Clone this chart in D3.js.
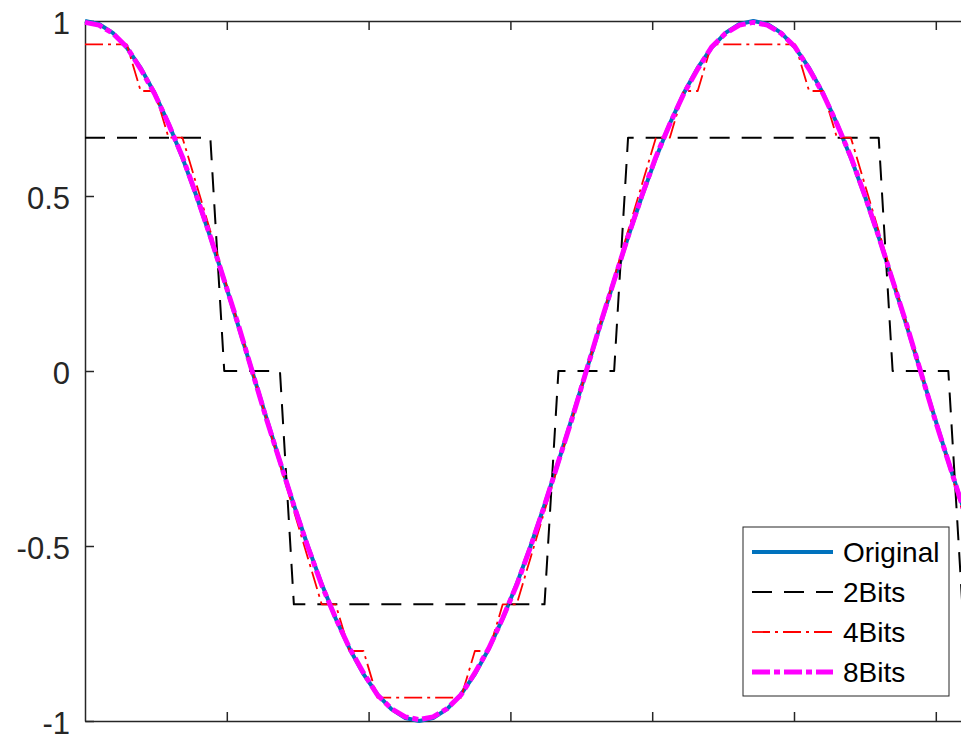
<!DOCTYPE html>
<html>
<head>
<meta charset="UTF-8">
<title>Quantization</title>
<script src="https://cdn.jsdelivr.net/npm/d3@7"></script>
<style>
  body { margin: 0; background: #fff; }
  svg { display: block; }
  text { font-family: "Liberation Sans", Arial, Helvetica, sans-serif; }
</style>
</head>
<body>
<script>
// samples are taken every dt (x axis units), one period = 48 samples
var dt = 0.0982;

var original = [1, 0.9914, 0.9659, 0.9239, 0.866, 0.7934, 0.7071, 0.6088, 0.5, 0.3827, 0.2588, 0.1305,
  0, -0.1305, -0.2588, -0.3827, -0.5, -0.6088, -0.7071, -0.7934, -0.866, -0.9239, -0.9659, -0.9914,
  -1, -0.9914, -0.9659, -0.9239, -0.866, -0.7934, -0.7071, -0.6088, -0.5, -0.3827, -0.2588, -0.1305,
  0, 0.1305, 0.2588, 0.3827, 0.5, 0.6088, 0.7071, 0.7934, 0.866, 0.9239, 0.9659, 0.9914,
  1, 0.9914, 0.9659, 0.9239, 0.866, 0.7934, 0.7071, 0.6088, 0.5, 0.3827, 0.2588, 0.1305,
  0, -0.1305, -0.2588, -0.3827, -0.5];

var bits2 = [0.6667, 0.6667, 0.6667, 0.6667, 0.6667, 0.6667, 0.6667, 0.6667, 0.6667, 0.6667, 0, 0,
  0, 0, 0, -0.6667, -0.6667, -0.6667, -0.6667, -0.6667, -0.6667, -0.6667, -0.6667, -0.6667,
  -0.6667, -0.6667, -0.6667, -0.6667, -0.6667, -0.6667, -0.6667, -0.6667, -0.6667, -0.6667, 0, 0,
  0, 0, 0, 0.6667, 0.6667, 0.6667, 0.6667, 0.6667, 0.6667, 0.6667, 0.6667, 0.6667,
  0.6667, 0.6667, 0.6667, 0.6667, 0.6667, 0.6667, 0.6667, 0.6667, 0.6667, 0.6667, 0, 0,
  0, 0, 0, -0.6667, -0.6667];

var bits4 = [0.9333, 0.9333, 0.9333, 0.9333, 0.8, 0.8, 0.6667, 0.6667, 0.5333, 0.4, 0.2667, 0.1333,
  0, -0.1333, -0.2667, -0.4, -0.5333, -0.6667, -0.6667, -0.8, -0.8, -0.9333, -0.9333, -0.9333,
  -0.9333, -0.9333, -0.9333, -0.9333, -0.8, -0.8, -0.6667, -0.6667, -0.5333, -0.4, -0.2667, -0.1333,
  0, 0.1333, 0.2667, 0.4, 0.5333, 0.6667, 0.6667, 0.8, 0.8, 0.9333, 0.9333, 0.9333,
  0.9333, 0.9333, 0.9333, 0.9333, 0.8, 0.8, 0.6667, 0.6667, 0.5333, 0.4, 0.2667, 0.1333,
  0, -0.1333, -0.2667, -0.4, -0.5333];

var bits8 = [0.9961, 0.9882, 0.9647, 0.9255, 0.8627, 0.7922, 0.7059, 0.6118, 0.502, 0.3843, 0.2588, 0.1333,
  0, -0.1333, -0.2588, -0.3843, -0.502, -0.6118, -0.7059, -0.7922, -0.8627, -0.9255, -0.9647, -0.9882,
  -0.9961, -0.9882, -0.9647, -0.9255, -0.8627, -0.7922, -0.7059, -0.6118, -0.502, -0.3843, -0.2588, -0.1333,
  0, 0.1333, 0.2588, 0.3843, 0.502, 0.6118, 0.7059, 0.7922, 0.8627, 0.9255, 0.9647, 0.9882,
  0.9961, 0.9882, 0.9647, 0.9255, 0.8627, 0.7922, 0.7059, 0.6118, 0.502, 0.3843, 0.2588, 0.1333,
  0, -0.1333, -0.2588, -0.3843, -0.502];

var seriesNames = ["Original", "2Bits", "4Bits", "8Bits"];
var xTicks = [1, 2, 3, 4, 5, 6];
var yTicks = [-1, -0.5, 0, 0.5, 1];

var w = 961;
var h = 734;
var padLeft = 85, padTop = 21, padBottom = 721;

var x = d3.scaleLinear().domain([0, 7]).range([padLeft, padLeft + 7 * 141.8]);
var y = d3.scaleLinear().domain([-1, 1]).range([padBottom, padTop]);

var styles = [
  {color: "#0072BD", width: 4, dash: null},
  {color: "#000000", width: 2, dash: "20,12"},
  {color: "#FF0000", width: 1.8, dash: "18,5,3,5"},
  {color: "#FF00FF", width: 5, dash: "18,4,6,4"}
];

var svg = d3.select("body")
  .append("svg")
  .attr("width", w)
  .attr("height", h);

// axes (drawn under the lines)
var axisColor = "#262626";

var gx = svg.append("g")
  .attr("transform", "translate(0," + padBottom + ")")
  .call(d3.axisBottom(x).tickValues(xTicks).tickSize(-9).tickSizeOuter(0).tickFormat(""));
var gxt = svg.append("g")
  .attr("transform", "translate(0," + padTop + ")")
  .call(d3.axisTop(x).tickValues(xTicks).tickSize(-9).tickSizeOuter(0).tickFormat(""));
var gy = svg.append("g")
  .attr("transform", "translate(" + padLeft + ",0)")
  .call(d3.axisLeft(y).tickValues(yTicks).tickSize(-9).tickSizeOuter(0).tickPadding(15)
    .tickFormat(function(d) { return String(d); }));

[gx, gxt, gy].forEach(function(g) {
  g.selectAll("path, line").attr("stroke", axisColor).attr("stroke-width", 1.5);
});
gy.selectAll("text")
  .attr("fill", axisColor)
  .attr("dy", "0.4em")
  .style("font-size", "31px")
  .style("font-family", "'Liberation Sans', Arial, sans-serif");

// data lines
var line = d3.line()
  .x(function(d, i) { return x(i * dt); })
  .y(function(d) { return y(d); });

var allSeries = [original, bits2, bits4, bits8];

allSeries.forEach(function(s, i) {
  svg.append("path")
    .datum(s)
    .attr("fill", "none")
    .attr("stroke", styles[i].color)
    .attr("stroke-width", styles[i].width)
    .attr("stroke-dasharray", styles[i].dash)
    .attr("stroke-linejoin", "round")
    .attr("d", line);
});

// legend
var lg = svg.append("g").attr("transform", "translate(743,527)");
lg.append("rect")
  .attr("width", 206)
  .attr("height", 169)
  .attr("fill", "#fff")
  .attr("stroke", axisColor)
  .attr("stroke-width", 1);

seriesNames.forEach(function(name, i) {
  var ly = 25 + i * 40;
  lg.append("line")
    .attr("x1", 9).attr("x2", 90)
    .attr("y1", ly).attr("y2", ly)
    .attr("stroke", styles[i].color)
    .attr("stroke-width", styles[i].width)
    .attr("stroke-dasharray", styles[i].dash);
  lg.append("text")
    .attr("x", 100)
    .attr("y", ly)
    .attr("dy", "0.36em")
    .style("font-size", "28px")
    .attr("fill", "#000")
    .text(name);
});
</script>
</body>
</html>
